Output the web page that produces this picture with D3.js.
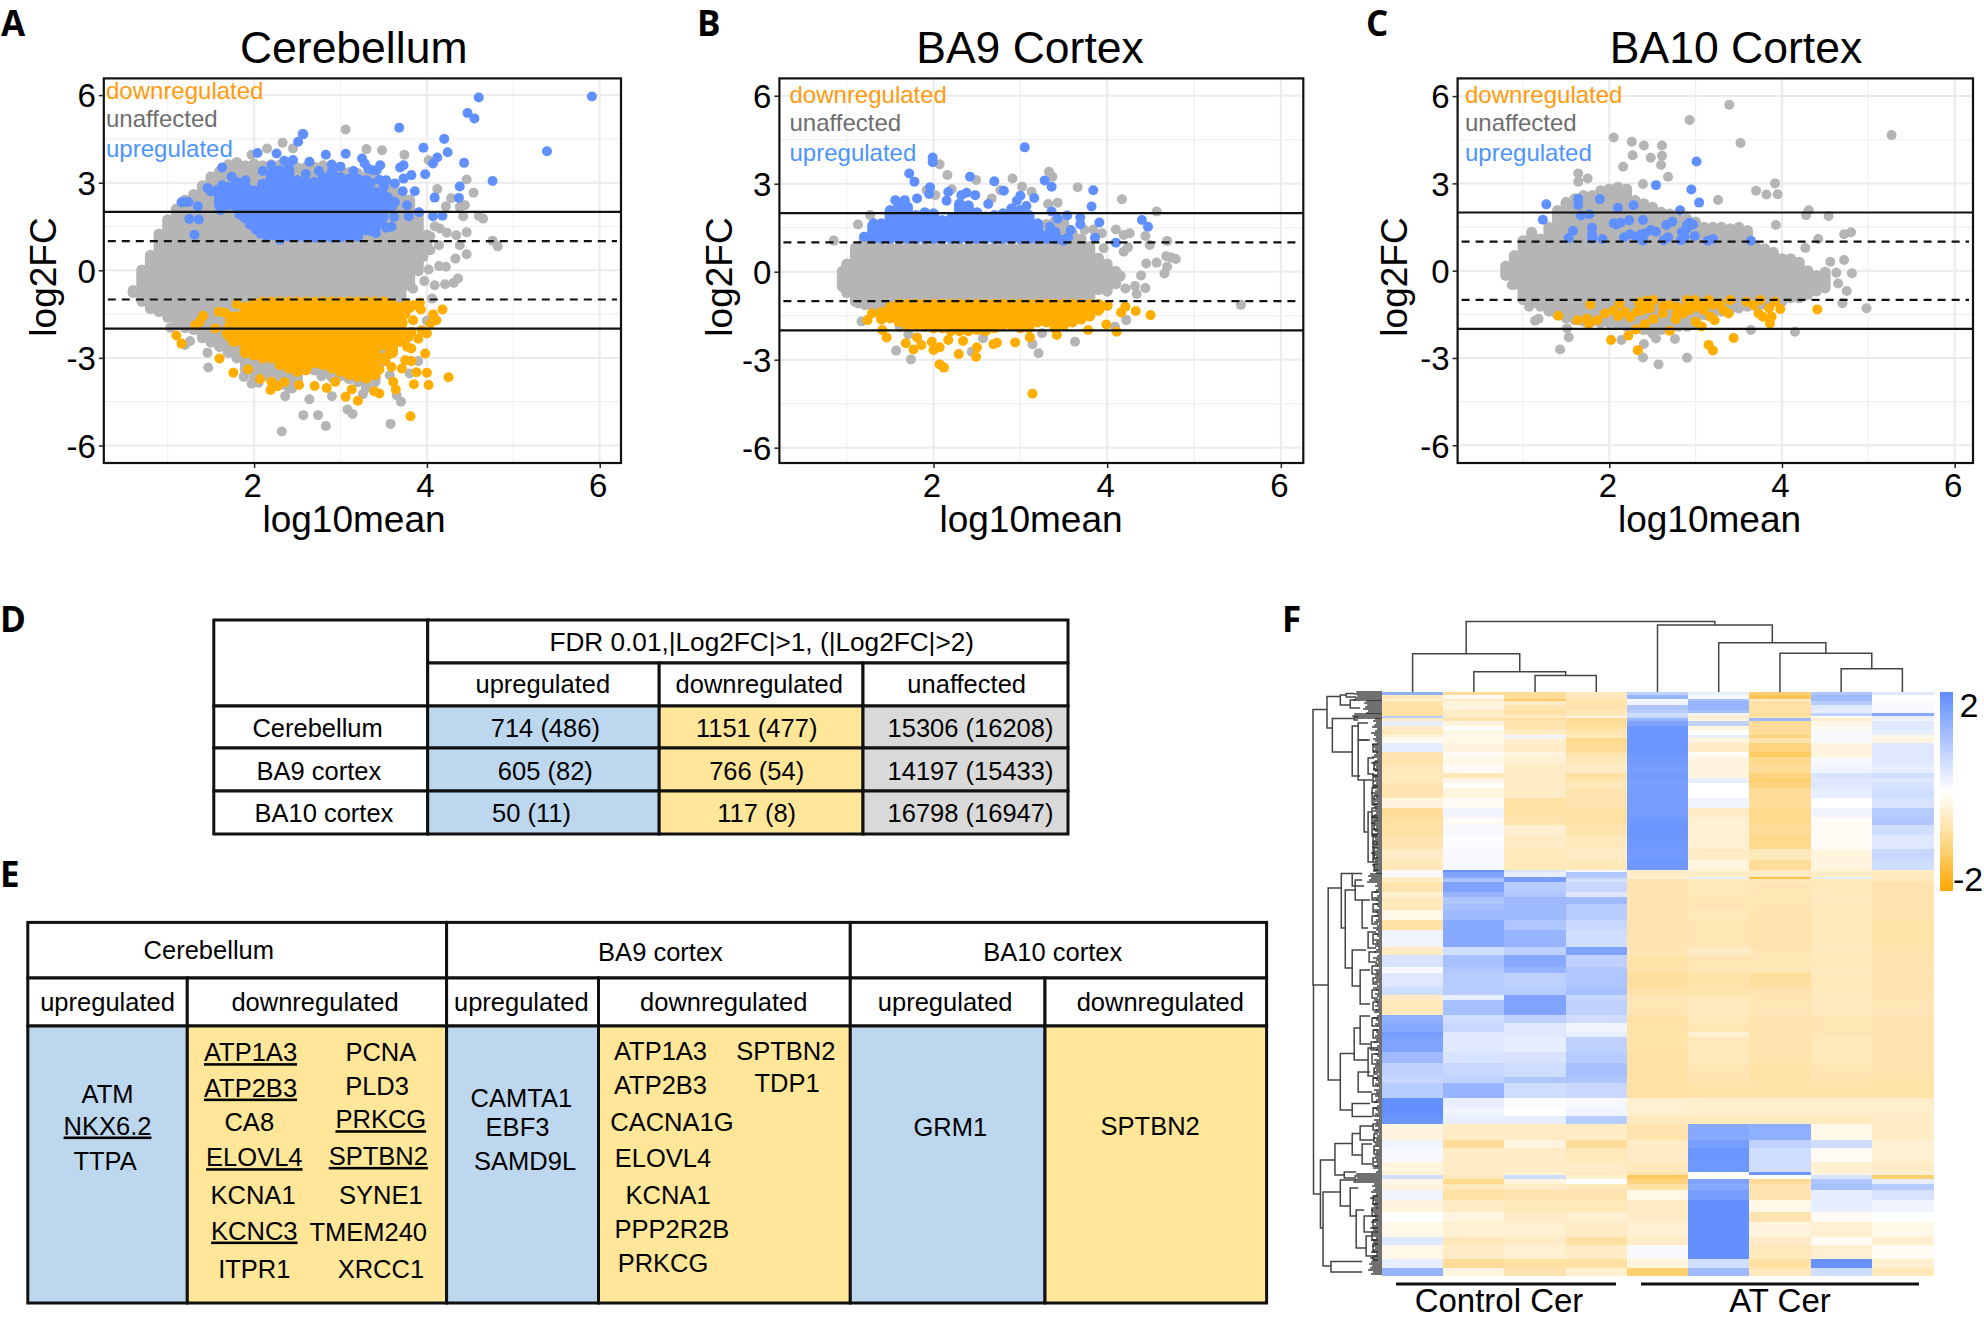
<!DOCTYPE html>
<html><head><meta charset="utf-8">
<script src="https://d3js.org/d3.v7.min.js"></script>
<style>html,body{margin:0;padding:0;background:#fff}svg{display:block}text{font-family:"Liberation Sans",Arial,sans-serif;fill:#000}</style>
</head><body><svg id="c" width="1984" height="1319"></svg>
<script>
// ---------- MA plot data (log10mean, log2FC) ----------
const xTicks=[2,4,6], xMinor=[1,3,5], yTicks=[6,3,0,-3,-6], yMinor=[4.5,1.5,-1.5,-4.5], solidCuts=[2,-2], dashCuts=[1,-1];
const legendLabels=["downregulated","unaffected","upregulated"];
const panelTitles=["Cerebellum","BA9 Cortex","BA10 Cortex"];

const aGrayX=[.6,.7,.8,.9,1,1.1,1.2,1.3,1.4,1.5,1.6,1.7,1.8,1.9,2,2.1,2.2,2.3,2.4,2.5,2.6,2.7,2.8,2.9,3,3.1,3.2,3.3,3.4,3.5,3.6,3.7,3.8,3.9,4];
const aGrayTop=[-.5,.2,.7,1.43,1.92,2.29,2.6,2.78,3.08,3.39,3.57,3.8,3.88,3.77,3.83,3.77,3.8,3.8,3.8,3.7,3.71,3.72,3.77,3.65,3.6,3.54,3.5,3.4,3.3,3.2,3.05,2.85,2.6,2.15,1.4];
const aGrayBottom=[-.95,-1.25,-1.5,-1.6,-1.8,-2.05,-2.15,-2.22,-2.5,-2.65,-2.8,-3,-3.19,-3.6,-3.85,-3.82,-3.8,-4.1,-4.2,-4,-3.6,-3.6,-3.7,-3.85,-3.8,-3.9,-4,-4.2,-4,-3.3,-3,-1.3,-.7,-.2,.5];
const aBlueX=[1.6,1.7,1.8,1.9,2,2.1,2.2,2.3,2.4,2.5,2.6,2.7,2.8,2.9,3,3.1,3.2,3.3,3.4,3.5];
const aBlueTop=[2.91,3.03,3.2,3.08,2.91,3.14,3.48,3.6,3.66,3.26,3.2,3.2,3.37,3.54,3.37,3.31,3.31,3.26,2.86,2.74];
const aBlueBottom=[2.06,2.06,1.94,1.6,1.49,1.26,1.2,1.14,.98,.98,.95,.95,.95,.95,.95,.98,.98,1.2,1.26,1.83];
const aOrangeX=[1.8,1.9,2,2.1,2.2,2.3,2.4,2.5,2.6,2.7,2.8,2.9,3,3.1,3.2,3.3,3.4,3.5,3.6,3.7];
const aOrangeTop=[-1.4,-1.08,-.95,-.9,-.9,-.9,-.9,-.9,-.9,-.9,-.9,-.9,-.9,-.9,-.9,-.9,-.9,-.9,-1,-1.08];
const aOrangeBottom=[-2.6,-3.02,-3.08,-3.19,-3.19,-3.42,-3.53,-3.65,-3.59,-3.36,-3.42,-3.53,-3.65,-3.76,-3.82,-3.88,-3.76,-2.74,-3,-2.62];
const aGrayPts=[[3.06,4.82],[2.56,4.68],[2.33,4.37],[2.15,4.17],[2.45,4.17],[1.97,3.96],[3.3,4.15],[3.48,4.11],[3.74,3.96],[4.02,3.77],[4.46,3.11],[4.54,2.66],[4.12,2.78],[4.28,2.47],[4.44,2.23],[4.22,2.19],[4.38,2.17],[4.42,1.85],[4.6,1.86],[4.65,1.77],[4.09,1.51],[4.15,1.43],[4.46,1.3],[4.34,1.2],[4.23,1.29],[4.04,1.17],[4.76,1.01],[4.82,.82],[4.38,.86],[4.14,.86],[4.46,.55],[4.33,.4],[4.04,.69],[4.14,.15],[4.22,.12],[3.96,.46],[4.02,.03],[4.36,-.28],[4.31,-.43],[4.21,-.48],[4.09,-.51],[3.97,-.37],[3.84,-.63],[1.03,-1.97],[1.26,-2.42],[1.2,-2.56],[1.46,-2.82],[1.47,-3.33],[1.88,-3.65],[1.97,-3.88],[2.05,-3.85],[2.45,-3.65],[2.36,-4.31],[2.44,-4.05],[2.64,-4.42],[2.78,-3.63],[2.9,-4.31],[2.57,-4.96],[2.74,-4.96],[2.83,-5.33],[2.32,-5.52],[3.08,-4.77],[3.14,-4.92],[3.58,-5.26],[3.7,-4.5],[3.65,-4.28],[3.57,-3.59],[3.8,-3.53],[3.9,-3.11],[4,-1.73],[3.26,-4.24],[4.06,-.97]];
const aBluePts=[[5.91,5.95],[5.39,4.08],[2.57,4.66],[2.51,4.4],[3.68,4.88],[4.6,5.92],[4.47,5.39],[4.55,5.2],[4.2,4.5],[3.96,4.2],[4.24,4.04],[2.04,4.02],[2.26,4],[2.83,3.96],[3.06,3.99],[2.64,3.72],[3.25,3.83],[3.28,3.66],[4.43,3.68],[4.12,3.86],[4.07,3.66],[1.63,3.52],[3.73,3.6],[3.69,3.52],[3.46,3.6],[3.42,3.43],[3.32,3.48],[3.37,3.43],[3.82,3.26],[3.73,3.14],[3.98,3.29],[4.76,3.06],[1.74,3.2],[1.9,3.08],[1.46,2.82],[1.57,2.74],[1.63,2.91],[1.78,2.8],[4.38,2.87],[3.86,2.71],[3.63,2.97],[3.53,3.08],[3.72,2.71],[4.09,2.49],[4.37,2.48],[3.77,2.23],[3.63,2.34],[1.2,2.34],[1.24,2.34],[1.16,2.33],[1.35,2.19],[1.25,1.76],[1.36,1.74],[1.31,1.22],[3.91,1.99],[4.07,1.85],[4.18,1.87],[3.79,1.85],[3.62,1.83],[3.5,1.83],[3.59,1.49],[3.53,1.46],[3.41,1.28],[1.95,1.57],[2.07,1.26],[2.24,1.2],[1.61,2.06],[1.83,1.91],[2.1,3.4],[2.2,3.6],[2.35,3.75],[2.45,3.78],[2.6,3.3],[2.75,3.4],[2.9,3.62],[3,3.55],[3.15,3.4],[3.35,3],[3.45,3.1],[3.5,2.85],[3.55,2.5],[3.6,2.2],[3.4,1.55],[3.35,1.35],[3.48,1.6],[1.75,2.6],[1.85,2.4],[1.5,2.7],[2.02,1.4],[2.15,1.15],[2.3,1.05]];
const aOrangePts=[[1.8,-1.16],[1.1,-2.23],[1.16,-2.51],[1.41,-1.56],[1.37,-1.76],[1.32,-1.88],[1.59,-1.42],[1.66,-1.45],[1.55,-1.99],[1.74,-1.59],[1.68,-2.16],[1.76,-2.45],[1.6,-3.02],[1.76,-3.51],[1.93,-3.39],[2.07,-3.72],[2.2,-3.82],[2.19,-4.1],[2.27,-3.97],[2.35,-3.83],[2.52,-3.93],[2.7,-3.96],[2.84,-4.03],[3.06,-4.33],[3.13,-4.08],[3.2,-4.47],[3.39,-4.14],[3.45,-4.22],[2.94,-3.82],[3.61,-3.82],[3.64,-4.08],[3.59,-3.31],[3.71,-3.36],[3.75,-3.08],[3.82,-3.11],[3.81,-5],[3.88,-3.49],[4,-3.51],[3.85,-3.9],[4.02,-3.93],[4.25,-3.66],[3.98,-2.85],[3.82,-2.68],[3.77,-2.62],[3.79,-2.28],[3.82,-2.11],[3.9,-2.34],[4,-2.16],[3.94,-2.05],[4.04,-1.82],[4.11,-1.71],[4.07,-1.51],[4.18,-1.34],[3.93,-1.34],[3.92,-1.11],[3.84,-1.71],[3.77,-1.16],[3.63,-1.94],[3.67,-2.45],[3.75,-1.5],[3.72,-1.8],[3.8,-1.3],[3.85,-1.2],[3.72,-2.2],[3.55,-2.9],[3.5,-3],[3.45,-3.4],[3.52,-3.1],[1.72,-1.7],[1.72,-2.3],[1.7,-1.95]];

const bGrayX=[.95,1,1.1,1.2,1.3,1.4,1.5,1.6,1.7,1.8,1.9,2,2.1,2.2,2.3,2.4,2.5,2.6,2.7,2.8,2.9,3,3.1,3.2,3.3,3.4,3.5,3.6,3.7,3.8,3.9,4,4.1,4.15];
const bGrayTop=[.2,.45,1,1.3,1.5,1,1,1,1,1,1,1,1,1,1,1,1,1,1,1,1,1,1.2,1.7,1.8,1.9,1.85,1.5,1.3,1.05,.65,.45,.2,0];
const bGrayBottom=[-.7,-.9,-1.2,-1.25,-1.35,-1.5,-1.5,-1.5,-1.5,-1.5,-1.5,-1.5,-1.5,-1.5,-1.5,-1.5,-1.5,-1.5,-1.5,-1.5,-1.5,-1.5,-1.5,-1.5,-1.5,-1.5,-1.5,-1.5,-1.2,-1.2,-.8,-.85,-.6,-.3];
const bBlueX=[1.3,1.4,1.5,1.6,1.7,1.8,1.9,2,2.1,2.2,2.3,2.4,2.5,2.6,2.7,2.8,2.9,3,3.1,3.2,3.3,3.4,3.5];
const bBlueTop=[1.76,1.82,2.27,2.5,2.39,2.1,2.2,2.16,1.93,1.99,2.5,2.44,2.2,2.05,2.1,2.16,2.33,2.27,2.1,1.82,1.42,1.53,1.2];
const bBlueBottom=[.95,.95,.95,.95,.95,.95,.95,.95,.95,.95,.95,.95,.95,.95,.95,.95,.95,.95,.95,.95,.95,.95,.95];
const bOrangeX=[1.4,1.5,1.6,1.7,1.8,1.9,2,2.1,2.2,2.3,2.4,2.5,2.6,2.7,2.8,2.9,3,3.1,3.2,3.3,3.4,3.5,3.6,3.7,3.8,3.9,4];
const bOrangeTop=[-1.2,-1.02,-.92,-.92,-.92,-.92,-.92,-.92,-.92,-.92,-.92,-.92,-.92,-.92,-.92,-.92,-.92,-.92,-.92,-.92,-.92,-.92,-.92,-.92,-.92,-.92,-1];
const bOrangeBottom=[-1.8,-1.76,-1.88,-2,-2,-2.05,-2.1,-2.1,-2.2,-2.2,-2.2,-2.15,-2.2,-2.1,-2,-2,-2.1,-2.1,-1.9,-1.9,-2.1,-2,-1.9,-1.8,-1.7,-1.5,-1.3];
const bGrayPts=[[5.54,-1.13],[.85,1.06],[1.13,1.61],[1.27,1.93],[2.07,3.66],[2.16,3.3],[2.49,3.13],[2.91,3.18],[3.33,3.41],[3.37,3.24],[3.13,2.73],[3.02,2.9],[3.66,2.88],[4.17,2.47],[4.57,2.05],[3.43,2.35],[3.32,2.31],[2.77,2.78],[2.67,2.5],[2.21,2.81],[1.92,2.78],[2.02,2.61],[4.1,1.44],[3.84,1.44],[3.94,1.31],[3.74,1.42],[4.19,1.25],[4.26,1.31],[4.44,1.22],[4.49,.91],[4.69,1.05],[4.24,.83],[4.19,.68],[3.96,.8],[4.68,.53],[4.74,.48],[4.79,.43],[4.69,.17],[4.66,-.06],[4.57,.31],[4.45,.28],[4.39,-.13],[4.32,-.49],[4.44,-.56],[4.34,-.76],[4.21,-.57],[4.22,-1.65],[4.09,-1.88],[3.63,-2.39],[3.21,-2.78],[3.14,-2.47],[3.25,-2.1],[2.44,-2.73],[2.57,-2.27],[1.57,-2.69],[1.74,-2.99],[1.17,-1.7],[1.13,-1.08],[1.21,-1.14],[1.61,-1.88],[1.71,-2.13]];
const bBluePts=[[3.05,4.24],[1.99,3.89],[1.99,3.73],[1.72,3.35],[1.78,3.07],[2.42,3.24],[2.7,3.08],[3.28,3.11],[3.36,2.9],[3.84,2.78],[1.96,2.88],[2.17,2.72],[1.95,2.65],[2.81,2.76],[3.16,2.51],[3,2.59],[2.96,2.42],[3.82,2.22],[3.54,1.92],[3.36,2.05],[3.43,1.81],[3.69,1.85],[3.69,1.62],[3.91,1.68],[4.4,1.76],[4.47,1.53],[4.1,.99],[3.86,1.16],[3.58,1.42],[3.55,1.17],[3.48,1.08],[3.38,1.14],[3.34,1.53],[1.2,1.19],[1.31,1.65],[2.32,2.61],[2.38,2.69],[2.48,2.61],[1.81,2.5],[2.63,2.31],[2.15,2.42],[1.56,2.44],[1.67,2.44],[3.07,2.24]];
const bOrangePts=[[3.14,-4.16],[2.07,-3.16],[2.12,-3.27],[2.49,-2.9],[2.29,-2.81],[2,-2.67],[1.77,-2.65],[1.68,-2.44],[1.46,-2.24],[1.41,-1.99],[1.24,-1.65],[1.29,-1.42],[2.94,-2.41],[2.73,-2.42],[2.5,-2.58],[2.07,-2.58],[1.86,-2.5],[4.11,-2.05],[3.99,-1.8],[3.78,-1.99],[3.42,-2.16],[3.11,-2.24],[4.21,-1.19],[4.16,-1.39],[4.33,-1.34],[4.5,-1.48],[1.81,-2.24],[1.98,-2.39],[2.17,-2.33],[2.34,-2.36],[2.69,-2.47]];

const cGrayX=[.8,.9,1,1.1,1.2,1.3,1.4,1.5,1.6,1.7,1.8,1.9,2,2.1,2.2,2.3,2.4,2.5,2.6,2.7,2.8,2.9,3,3.1,3.2,3.3,3.4,3.5,3.6,3.7,3.8,3.9,4,4.1,4.2,4.3,4.4,4.5];
const cGrayTop=[.35,.71,1.22,1.51,1.28,1.68,2.26,2.54,2.66,2.77,2.77,2.94,3,3.06,3,2.6,2.49,2.37,2.2,2.14,1.97,1.97,1.86,1.68,1.68,1.68,1.63,1.68,1.57,1,.94,.82,.6,.6,.48,.19,.02,.14];
const cGrayBottom=[-.35,-.66,-1.18,-1.29,-1.41,-1.58,-1.7,-1.81,-1.87,-1.92,-1.92,-1.98,-1.98,-2.04,-2.1,-2.15,-2.21,-2.33,-2.21,-2.15,-2.1,-2.1,-2.04,-1.7,-1.64,-1.58,-1.52,-1.47,-1.41,-1.41,-1.35,-1.24,-1.24,-1.12,-1.12,-1,-.89,-.78];
const cGrayPts=[[5.27,4.66],[3.39,5.7],[2.93,5.18],[3.52,4.39],[2.05,4.58],[2.26,4.43],[2.4,4.3],[2.61,4.3],[2.61,3.95],[2.27,3.97],[2.48,3.88],[2.6,3.63],[2.16,3.57],[1.64,3.34],[1.64,3.06],[1.75,3.17],[3.92,3],[3.95,2.63],[3.82,2.62],[3.7,2.75],[2.68,3.23],[2.39,2.98],[3.26,2.43],[4.31,2.08],[4.28,1.91],[4.54,1.88],[3.93,1.57],[4.8,1.32],[4.72,1.25],[4.42,1.09],[4.27,.78],[4.56,.31],[4.72,.37],[4.81,-.09],[4.63,-.07],[4.65,-.44],[4.75,-.7],[4.7,-1.12],[4.98,-1.29],[3.64,-2.04],[4.15,-2.1],[2.9,-2.99],[2.57,-3.22],[2.39,-2.98],[1.43,-2.71],[1.53,-2.29],[1.51,-1.98],[1.14,-1.72],[1.18,-1.65],[2.14,-2.38],[2.4,-2.52],[2.54,-2.33],[2.76,-2.35],[.81,.14],[.83,-.09],[.87,-.49],[1.07,-1.24]];
const cBluePts=[[3.01,3.75],[2.54,2.94],[2.95,2.79],[3.04,2.34],[1.27,2.28],[1.64,2.47],[1.64,2.26],[1.89,2.46],[2.1,2.16],[2.28,2.25],[2.82,2.08],[1.67,1.9],[1.77,1.94],[1.23,1.75],[1.58,1.37],[1.53,1.12],[1.8,1.48],[1.8,1.25],[1.8,1.11],[1.92,1.09],[2.05,1.63],[2.08,1.59],[2.13,1.65],[2.23,1.73],[2.39,1.74],[2.17,1.15],[2.24,1.25],[2.31,1.17],[2.37,1.25],[2.41,1.28],[2.39,1.03],[2.48,1.4],[2.54,1.34],[2.66,1.57],[2.73,1.68],[2.63,1.05],[2.68,1.15],[2.83,1.05],[2.87,1.17],[2.84,1.32],[2.9,1.45],[2.93,1.65],[2.97,1.59],[2.9,1.57],[2.99,1.19],[3.14,1.03],[3.2,1.09],[3.64,1.03]];
const cOrangePts=[[1.41,-1.55],[1.63,-1.7],[1.74,-1.65],[1.76,-1.84],[1.78,-1.16],[1.86,-1.7],[1.95,-1.47],[2.05,-1.37],[2.12,-1.12],[2.1,-1.56],[2.18,-1.41],[2.24,-1.6],[2.34,-1.09],[2.32,-1.41],[2.39,-1.35],[2.43,-1.03],[2.51,-1.01],[2.47,-1.29],[2.51,-1.66],[2.41,-1.84],[2.31,-2.02],[2.22,-2.23],[2.02,-2.38],[2.33,-2.73],[2.62,-1.47],[2.62,-1.21],[2.7,-1.18],[2.77,-1.67],[2.7,-2.06],[2.78,-1.24],[2.9,-1.01],[2.86,-1.47],[2.93,-1.35],[2.99,-1.01],[3.01,-1.24],[3.09,-1.35],[3.15,-1.01],[3,-1.75],[3.07,-1.92],[3.17,-1.58],[3.22,-1.7],[3.28,-1.12],[3.32,-1.35],[3.4,-1.01],[3.38,-1.47],[3.15,-2.55],[3.2,-2.74],[3.44,-2.31],[3.59,-1.07],[3.67,-1.18],[3.75,-1.01],[3.73,-1.47],[3.78,-1.58],[3.85,-1.29],[3.92,-1.07],[3.88,-1.58],[3.86,-1.81],[3.98,-1.32],[4.41,-1.33],[3.09,-1.18],[3.2,-1.18],[2.97,-1.18],[2.78,-1.47],[2.88,-1.29]];

// ---------- tables ----------
const dHeader="FDR 0.01,|Log2FC|>1, (|Log2FC|>2)";
const dColumns=["upregulated","downregulated","unaffected"];
const dRows=["Cerebellum","BA9 cortex","BA10 cortex"];
const dUp=["714 (486)","605 (82)","50 (11)"];
const dDown=["1151 (477)","766 (54)","117 (8)"];
const dNone=["15306 (16208)","14197 (15433)","16798 (16947)"];
const eRegions=["Cerebellum","BA9 cortex","BA10 cortex"];
const eSub=["upregulated","downregulated","upregulated","downregulated","upregulated","downregulated"];
const eGenes=["ATM","NKX6.2","TTPA","ATP1A3","ATP2B3","CA8","ELOVL4","KCNA1","KCNC3","ITPR1","PCNA","PLD3","PRKCG","SPTBN2","SYNE1","TMEM240","XRCC1","CAMTA1","EBF3","SAMD9L","ATP1A3","ATP2B3","CACNA1G","ELOVL4","KCNA1","PPP2R2B","PRKCG","SPTBN2","TDP1","GRM1","SPTBN2"];
const eUnderlined=[1,3,4,6,8,12,13];

// ---------- heatmap ----------
const heatColumns=[1,2,3,4,5,6,7,8,9];
const heatGroups=["Control Cer","AT Cer"];
const heatLegend=["2","-2"];
const heatSpan=[1.5,2,1,2,2.5,1.7,1.2,1.3,1.3,2.3,2.2,2.5,1.7,2.5,4.2,2.5,4.2,4.2,2.5,2.5,2.5,5,5,4.2,4.2,5,6.7,5.8,4.7,1.2,2.5,.8,1.7,5,2.5,3.3,3.3,5,5,8.3,4.2,5.8,3.3,6.7,4.2,2.5,7.5,4.2,4.2,2.5,7.5,5.8,6.7,3.3,7.5,4.2,4.5,4.2,8,4.2,6.7,5,1.7,2,2.2,3.3,5,5.8,5,7.5,4.2,7,4.7,3.3];
const heatValues=[
[1.4,-.9,-.9,-.6,.8,.3,-1.2,1,.4],[-.6,-.1,-.9,-.6,1.3,.1,-1.4,1.2,0],[-.4,-.5,-1.3,-.7,.1,1.1,-.5,1.2,0],[-.7,-.3,-.5,-.7,.2,1.3,-.8,.9,.1],[-.8,-.3,-.7,-.7,1,1.3,-.8,.4,.1],[-.8,-.5,-.8,-.6,.9,1.1,-.8,.3,.1],[-.8,-.5,-.7,-.6,.6,.2,-.9,.8,1.5],[.9,-.5,-.5,-.3,.7,-.5,-.7,-.1,.3],[-.5,-.7,-.8,-.9,1.3,-.3,1.2,-.4,.2],[.3,-.3,-.7,-.9,1.6,.8,-.9,-.2,.4],[-.5,0,-.7,-.8,1.85,-.3,-.9,-.1,.4],[-.6,-.2,-.5,-.7,1.85,0,-.9,.1,.3],[-.3,-.2,.2,-.6,1.85,.3,-1.1,.1,-.2],[-.1,-.2,-.4,-1,1.85,-.3,-.7,.1,-.3],[.3,-.3,-.5,-.9,1.85,-.5,-1.1,-.3,.4],[-.7,-.1,-.3,-.7,1.8,-.1,-1.3,-.3,.4],[-.7,-.2,-.4,-.6,1.75,-.3,-1,.1,.4],[-.6,-.1,-.5,-.5,1.7,-.3,-.9,.2,.3],[-.6,-.6,-.5,-.8,1.75,-.3,-1.1,.5,.6],[-.6,-.2,-.5,-.7,1.7,.3,-1.2,.4,.4],[-.7,0,-.5,-.6,1.7,0,-1.1,.4,.5],[-.7,-.3,-.5,-.7,1.7,0,-.9,.3,.6],[-.3,-.1,-.8,-.7,1.7,.2,-.9,0,.5],[-.9,.2,-.8,-.8,1.7,-.5,-1,.2,.9],[-.8,-.1,-.7,-.8,1.8,-.4,-1,-.1,1],[-.8,.1,-.4,-.7,1.85,-.4,-.9,-.1,.6],[-.7,.05,-.5,-.6,1.8,-.4,-1,-.1,.4],[-.5,.1,-.6,-.5,1.75,-.5,-.6,-.3,.7],[-.6,.1,-.6,-.6,1.8,-.3,-.9,-.3,.6],
[-.1,1.9,.5,.1,-.5,-.4,-.5,-.4,-.5],[.1,1.6,.3,1,-.5,-.5,-.5,-.5,-.6],[-.5,1.3,1.7,.8,-.4,.3,-1.5,.3,-.5],[-.5,1,1.7,.5,-.7,-.6,-.6,-.6,-.6],[-.7,1.6,.9,.7,-.7,-.6,-.65,-.6,-.7],[-.4,1.3,1,.4,-.7,-.6,-.65,-.55,-.7],[-.6,1,1.2,1.2,-.7,-.65,-.65,-.55,-.7],[-.6,1.1,1.2,.9,-.7,-.65,-.65,-.6,-.7],[-.2,1.2,1.2,.9,-.7,-.6,-.7,-.6,-.7],[-.8,1.5,1,.7,-.7,-.65,-.7,-.6,-.75],[.2,1.5,1.3,.6,-.7,-.65,-.7,-.6,-.75],[-.5,.6,.8,1.6,-.65,-.5,-.65,-.55,-.7],[.5,1.1,1.5,.8,-.75,-.65,-.65,-.6,-.7],[.1,1,1.3,1,-.75,-.65,-.65,-.55,-.65],[.4,.9,.8,1,-.85,-.75,-.85,-.6,-.7],[.6,.9,.9,1.1,-.75,-.7,-.7,-.6,-.7],[-.5,.3,1.6,.7,-.65,-.6,-.65,-.55,-.65],[-.6,1.1,1.6,.8,-.65,-.55,-.65,-.55,-.65],[1.4,.6,.8,.6,-.8,-.6,-.7,-.65,-.7],[1.5,.7,.4,.2,-.75,-.65,-.7,-.65,-.7],[1.7,.4,.4,.3,-.75,-.4,-.7,-.65,-.7],[1.6,.4,.3,.8,-.75,-.6,-.7,-.6,-.7],[1.2,.5,.5,.9,-.8,-.6,-.7,-.6,-.7],[.8,.7,.6,1.1,-.8,-.65,-.75,-.65,-.7],[.7,.8,1,1,-.8,-.7,-.75,-.7,-.75],[.9,1.3,.6,.7,-.8,-.75,-.75,-.75,-.75],[1.95,.3,.05,.1,-.4,-.45,-.45,-.45,-.45],[1.95,.2,0,.2,-.4,-.45,-.45,-.45,-.45],[1.85,.3,.3,.9,-.55,-.55,-.55,-.55,-.5],
[-.3,-.5,-.5,-.5,-.7,1.5,1.4,-.2,-.5],[.2,-.9,-.3,-.9,-.5,1.7,.8,.6,-.4],[.1,-.5,-.5,-.6,-.5,1.85,.6,-.1,-.4],[-.3,-.5,-.5,-.5,-.6,1.8,.6,-.4,-.5],[-.4,-.5,-.4,-.5,-.7,0,1.8,-.3,-.4],[.6,-.6,.6,-.4,-1.3,0,0,.5,-1.2],[-.2,-1,-.3,0,-1.1,1.6,-.9,1,.3],[-.3,-.6,-.5,-.6,-.8,1.5,-.7,1.1,.9],[.2,-.8,-.7,-.7,-.2,1.7,-.7,.3,.5],[-.3,-.5,-.6,-.6,-.5,1.95,-.2,.3,.2],[0,-.3,-.5,-.4,-.5,1.95,-.7,-.1,0],[-.2,-.4,-.4,-.5,-.4,1.95,-.3,-.4,-.2],[.4,-.6,-.5,-.8,-.5,1.95,-.5,-.1,-.4],[-.2,-.5,-.4,-.5,.1,1.95,-.6,-.4,-.1],[.3,-.9,-.8,-.8,-.3,.6,-.8,1.9,-.4],[1.3,-.3,-.7,-.4,-1.2,1.2,-.6,.6,-.6]
];
// dendrograms: [first, second, node height, height of first child, height of second child]
const topDendro=[[2.5,3.5,16.5,0,0],[1.5,3,20,0,16.5],[.5,2.25,38,0,20],[7.5,8.5,23,0,0],[6.5,8,38.5,0,23],[5.5,7.25,49,0,38.5],[4.5,6.375,66.5,0,49],[1.375,5.4375,70,38,66.5]];
const rowDendro=[[8.7,146.5,69.5,55.4,69],[146.5,251,69,54.2,62],[2.3,18,55.4,42,50],[1.5,6.5,42,36,32],[.8,2.5,36,28,26],[4,8,32,26,22],[13.2,30,50,28,30],[12.5,14,28,24,24],[17,42,30,24,22],[15.5,24,24,14,12],[24,44,24,14,18],[33,41,14,8,8],[44,70,18,10,14],[48,56,10,5,5],[60,85,14,10,9],[62,72,10,5,5],[75,85,9,5,5],[98,194,54.2,41,42],[90.7,118,41,30,37],[90.7,97,30,20,18],[99,138,37,27,30],[94,104,27,20,20],[104,118,20,12,14],[120,128,14,6,6],[129,147,30,16,22],[139,156,22,12,12],[180.7,209,42,28,30],[168,184,28,22,14],[162,176,22,12,12],[178,192,14,8,8],[205.7,212.3,30,12,10],[190,200,24,12,10],[234,268,62,47.4,59.4],[225.7,241.5,47.4,30,38],[220.7,231.5,30,22,20],[217,224,22,8,8],[226,236,20,10,10],[240,243,38,26,26],[250,287,59.4,42,51.4],[244,257,42,26,32],[248,262,32,24,26],[259,278,26,18,16],[262,270,18,8,8],[272,282,16,8,8],[284.8,290,51.4,20,20],
[26,30,9,4,4],[35,39,8,4,4],[42,47,9,4,4],[52,56,8,4,4],[58,63,10,5,4],[64,69,8,4,4],[71,76,9,4,4],[78,83,8,4,4],[86,89,8,4,4],[100,104,10,4,4],[106,110,9,4,4],[112,116,10,4,4],[121,126,9,4,4],[130,135,13,6,5],[137,141,10,4,4],[143,146,9,4,4],[149,153,10,4,4],[155,159,9,4,4],[163,167,10,4,4],[169,173,9,4,4],[175,179,11,5,4],[181,186,10,4,4],[188,191,8,4,4],[193,197,9,4,4],[201,205,10,4,4],[208,212,9,4,4],[216,219,9,4,4],[221,225,8,4,4],[227,231,8,4,4],[233,237,9,4,4],[252,256,9,4,4],[258,262,10,4,4],[264,268,9,4,4],[270,274,10,4,4],[276,280,9,4,4],[282,284,9,4,4]];
const leafBandStart=[0,4.5,11,13.5,91,96,234,241,246,285];
const leafBandEnd=[4.5,11,13.5,91,96,234,241,246,285,291.5];
const leafBandLen=[26,16,28,7,12,5,6,26,8,11];
const leafWobble=[0,2,-1,1,3,-2,0,4,1,-1,2,0,-2,3,1];

// ---------- drawing ----------
const svg=d3.select("#c");
const K=1984/1568;
const BLUE="#6090FF",ORANGE="#FFAE00",GRAY="#B5B5B5";
const legendColors=["#FF9B0F","#6E6E6E","#4D94FF"];
const dotR=5, colW=11;

const panels=[
 {frame:[103.8,621,78.4,463],x1:167.7,x5:513.3,y0:270.3,unit:29.2,title:353.7,xt:354,yt:43,leg:106,legY:[99,126.7,156.7],
  gray:[aGrayX,aGrayTop,aGrayBottom],blue:[aBlueX,aBlueTop,aBlueBottom],orange:[aOrangeX,aOrangeTop,aOrangeBottom],gp:aGrayPts,bp:aBluePts,op:aOrangePts},
 {frame:[779.4,1303.3,78.4,463],x1:846.7,x5:1194,y0:271.7,unit:29.33,title:1030,xt:1031,yt:719,leg:789.5,legY:[103,130.7,160.7],
  gray:[bGrayX,bGrayTop,bGrayBottom],blue:[bBlueX,bBlueTop,bBlueBottom],orange:[bOrangeX,bOrangeTop,bOrangeBottom],gp:bGrayPts,bp:bBluePts,op:bOrangePts},
 {frame:[1457.6,1973,78.4,463],x1:1523,x5:1868.3,y0:270.7,unit:29.1,title:1736,xt:1709.5,yt:1394,leg:1465,legY:[103,130.7,161],
  gray:[cGrayX,cGrayTop,cGrayBottom],blue:null,orange:null,gp:cGrayPts,bp:cBluePts,op:cOrangePts}
];
panels.forEach((p,i)=>{
 const [L,R,T,B]=p.frame;
 const x=d3.scaleLinear().domain([1,5]).range([p.x1,p.x5]);
 const y=d3.scaleLinear().domain([0,6]).range([p.y0,p.y0-6*p.unit]);
 const g=svg.append("g");
 const grid=g.append("g");
 xMinor.forEach(v=>grid.append("line").attr("x1",x(v)).attr("x2",x(v)).attr("y1",T).attr("y2",B).attr("stroke","#F0F0F0").attr("stroke-width",1.2));
 yMinor.forEach(v=>grid.append("line").attr("x1",L).attr("x2",R).attr("y1",y(v)).attr("y2",y(v)).attr("stroke","#F0F0F0").attr("stroke-width",1.2));
 xTicks.forEach(v=>grid.append("line").attr("x1",x(v)).attr("x2",x(v)).attr("y1",T).attr("y2",B).attr("stroke","#EBEBEB").attr("stroke-width",2));
 yTicks.forEach(v=>grid.append("line").attr("x1",L).attr("x2",R).attr("y1",y(v)).attr("y2",y(v)).attr("stroke","#EBEBEB").attr("stroke-width",2));
 const cols=(s,color)=>{ if(!s) return; const [xs,top,bot]=s; const r=colW/2;
   g.append("g").selectAll("line").data(xs).join("line")
    .attr("x1",d=>x(d)).attr("x2",d=>x(d))
    .attr("y1",(d,k)=>Math.min(y(top[k])+r,(y(top[k])+y(bot[k]))/2))
    .attr("y2",(d,k)=>Math.max(y(bot[k])-r,(y(top[k])+y(bot[k]))/2))
    .attr("stroke",color).attr("stroke-width",colW).attr("stroke-linecap","round");
 };
 const pts=(a,color)=>g.append("g").selectAll("circle").data(a).join("circle")
    .attr("cx",d=>x(d[0])).attr("cy",d=>y(d[1])).attr("r",dotR).attr("fill",color);
 cols(p.gray,GRAY); pts(p.gp,GRAY);
 cols(p.blue,BLUE); pts(p.bp,BLUE);
 cols(p.orange,ORANGE); pts(p.op,ORANGE);
 solidCuts.forEach(v=>g.append("line").attr("x1",L).attr("x2",R).attr("y1",y(v)).attr("y2",y(v)).attr("stroke","#111").attr("stroke-width",2.2));
 dashCuts.forEach(v=>g.append("line").attr("x1",L+4).attr("x2",R-4).attr("y1",y(v)).attr("y2",y(v)).attr("stroke","#111").attr("stroke-width",2.2).attr("stroke-dasharray","8 6"));
 g.append("rect").attr("x",L).attr("y",T).attr("width",R-L).attr("height",B-T).attr("fill","none").attr("stroke","#111").attr("stroke-width",2.2);
 const ax=g.append("g").attr("transform",`translate(0,${B})`).call(d3.axisBottom(x).tickValues(xTicks).tickSize(5).tickPadding(6).tickFormat(String));
 const ay=g.append("g").attr("transform",`translate(${L},0)`).call(d3.axisLeft(y).tickValues(yTicks).tickSize(5).tickPadding(3).tickFormat(String));
 [ax,ay].forEach(a=>{a.select(".domain").remove();a.selectAll("text").style("font-size","33px").style("fill","#000").style("font-family",'"Liberation Sans",Arial,sans-serif');a.selectAll("line").attr("stroke","#222").attr("stroke-width",1.5);});
 ax.selectAll("text").attr("dx",-2);
 ay.selectAll("text").attr("dy",".36em");
 g.append("text").attr("x",p.title).attr("y",63).attr("text-anchor","middle").style("font-size","44.5px").text(panelTitles[i]);
 g.append("text").attr("x",p.xt).attr("y",532).attr("text-anchor","middle").style("font-size","37px").text("log10mean");
 g.append("text").attr("transform",`translate(${p.yt+13},277) rotate(-90)`).attr("text-anchor","middle").style("font-size","37px").text("log2FC");
 legendLabels.forEach((t,k)=>g.append("text").attr("x",p.leg).attr("y",p.legY[k]).style("font-size","24px").style("fill",legendColors[k]).text(t));
});

// panel letters
const letters=["A","B","C","D","E","F"], letterX=[1,697,1366,0,0,1282], letterY=[36,36,36,632,887,632];
letters.forEach((t,i)=>svg.append("text").attr("x",letterX[i]).attr("y",letterY[i]).style("font-family",'"Open Sans",sans-serif').style("font-weight",700).style("font-size","35px").text(t));

// tables
const FS="25.5px", LB="#BDD7EE", LY="#FFE699", LG="#D9D9D9";
function cell(x0,x1,y0,y1,fill){svg.append("rect").attr("x",x0).attr("y",y0).attr("width",x1-x0).attr("height",y1-y0).attr("fill",fill).attr("stroke","#111").attr("stroke-width",3);}
function label(t,px,py,u,fs){const s=svg.append("text").attr("x",px*K).attr("y",py*K).attr("dy",".33em").attr("text-anchor","middle").style("font-size",fs||FS).text(t);if(u)s.style("text-decoration","underline");}
// table D
const dX=[213.8,427.7,659.2,863,1068], dY=[620,663,706,748,791,834];
cell(dX[0],dX[1],dY[0],dY[2],"#fff");
cell(dX[1],dX[4],dY[0],dY[1],"#fff");
dColumns.forEach((t,i)=>cell(dX[i+1],dX[i+2],dY[1],dY[2],"#fff"));
dRows.forEach((t,r)=>{cell(dX[0],dX[1],dY[r+2],dY[r+3],"#fff");cell(dX[1],dX[2],dY[r+2],dY[r+3],LB);cell(dX[2],dX[3],dY[r+2],dY[r+3],LY);cell(dX[3],dX[4],dY[r+2],dY[r+3],LG);});
label(dHeader,602,508,false,"26.2px");
const dColX=[429,600,764]; dColumns.forEach((t,i)=>label(t,dColX[i],541));
const dRowX=[251,252,256], dRowY=[576,610,643]; dRows.forEach((t,i)=>label(t,dRowX[i],dRowY[i]));
const dUpX=[431,431,420]; dUp.forEach((t,i)=>label(t,dUpX[i],dRowY[i]));
dDown.forEach((t,i)=>label(t,598,dRowY[i]));
dNone.forEach((t,i)=>label(t,767,dRowY[i]));
// table E
const eX=[27.8,187.3,446.6,598.5,850.3,1045,1266.6], eY=[922.4,978,1026,1303];
[[0,2],[2,4],[4,6]].forEach(c=>cell(eX[c[0]],eX[c[1]],eY[0],eY[1],"#fff"));
eSub.forEach((t,i)=>{cell(eX[i],eX[i+1],eY[1],eY[2],"#fff");cell(eX[i],eX[i+1],eY[2],eY[3],i%2?LY:LB);});
const eRegX=[165,522,832], eRegY=[751,753,753]; eRegions.forEach((t,i)=>label(t,eRegX[i],eRegY[i]));
const eSubX=[85,249,412,572,747,917]; eSub.forEach((t,i)=>label(t,eSubX[i],792));
const eGeneX=[85,85,83,198,198,197,201,200,201,201,301,298,301,299,301,291,301,412,409,415,522,522,531,524,528,531,524,621,622,751,909];
const eGeneY=[865,890,918,832,860,887,915,945,973,1003,832,859,885,914,945,974,1003,868,891,918,831,858,887,916,945,972,999,831,856,891,890];
eGenes.forEach((t,i)=>label(t,eGeneX[i],eGeneY[i],eUnderlined.includes(i)));

// heatmap
const hL=1382,hR=1933,hT=692,hB=1275;
const heatColor=d3.scaleLinear().domain([-2,-1,0,1,2]).range(["#FFA800","#FFD98C","#FFFFFF","#AFC6FF","#5F8CFF"]);
const total=d3.sum(heatSpan);
const heatY=d3.scaleLinear().domain([0,total]).range([hT,hB]);
const heatX=d3.scaleBand().domain(heatColumns).range([hL,hR]);
const starts=Array.from(d3.cumsum([0].concat(heatSpan)));
const hg=svg.append("g").attr("shape-rendering","crispEdges");
heatValues.forEach((row,r)=>row.forEach((v,c)=>{
 hg.append("rect").attr("x",heatX(heatColumns[c])).attr("y",heatY(starts[r])).attr("width",heatX.bandwidth()+.5).attr("height",heatY(starts[r+1])-heatY(starts[r])+.5).attr("fill",heatColor(v));
}));
// top dendrogram
const topH=d3.scaleLinear().domain([0,70]).range([692,621.5]);
const topX=d3.scaleLinear().domain([0,9]).range([hL,hR]);
const dg=svg.append("g").attr("fill","none").attr("stroke","#444").attr("stroke-width",1.5);
topDendro.forEach(b=>dg.append("path").attr("d",d3.line()([[topX(b[0]),topH(b[3])],[topX(b[0]),topH(b[2])],[topX(b[1]),topH(b[2])],[topX(b[1]),topH(b[4])]])));
// row dendrogram
const rowH=d3.scaleLinear().domain([0,69.5]).range([hL,1313]);
const rowY=d3.scaleLinear().domain([0,291.5]).range([hT,hB]);
rowDendro.forEach(b=>dg.append("path").attr("d",d3.line()([[rowH(b[3]),rowY(b[0])],[rowH(b[2]),rowY(b[0])],[rowH(b[2]),rowY(b[1])],[rowH(b[4]),rowY(b[1])]])));
const lg=svg.append("g").attr("stroke","#222").attr("stroke-width",1.3);
leafBandStart.forEach((s,i)=>{
 d3.range(s,leafBandEnd[i],1).forEach((r,j)=>lg.append("line").attr("x1",rowH(leafBandLen[i]+leafWobble[j%leafWobble.length])).attr("x2",hL).attr("y1",rowY(r)).attr("y2",rowY(r)));
});
// colour bar
const defs=svg.append("defs");
const lgr=defs.append("linearGradient").attr("id","cb").attr("x1",0).attr("x2",0).attr("y1",0).attr("y2",1);
[2,1,0,-1,-2].forEach((v,i)=>lgr.append("stop").attr("offset",i/4).attr("stop-color",heatColor(v)));
svg.append("rect").attr("x",1940).attr("y",692).attr("width",13).attr("height",199).attr("fill","url(#cb)");
svg.append("text").attr("x",1969).attr("y",717).attr("text-anchor","middle").style("font-size","34px").text(heatLegend[0]);
svg.append("text").attr("x",1968).attr("y",891).attr("text-anchor","middle").style("font-size","34px").text(heatLegend[1]);
// groups
const grpX0=[1396,1641], grpX1=[1616,1919], grpTx=[1499,1780];
heatGroups.forEach((t,i)=>{
 svg.append("line").attr("x1",grpX0[i]).attr("x2",grpX1[i]).attr("y1",1284).attr("y2",1284).attr("stroke","#111").attr("stroke-width",3);
 svg.append("text").attr("x",grpTx[i]).attr("y",1312).attr("text-anchor","middle").style("font-size","33px").text(t);
});
</script></body></html>
